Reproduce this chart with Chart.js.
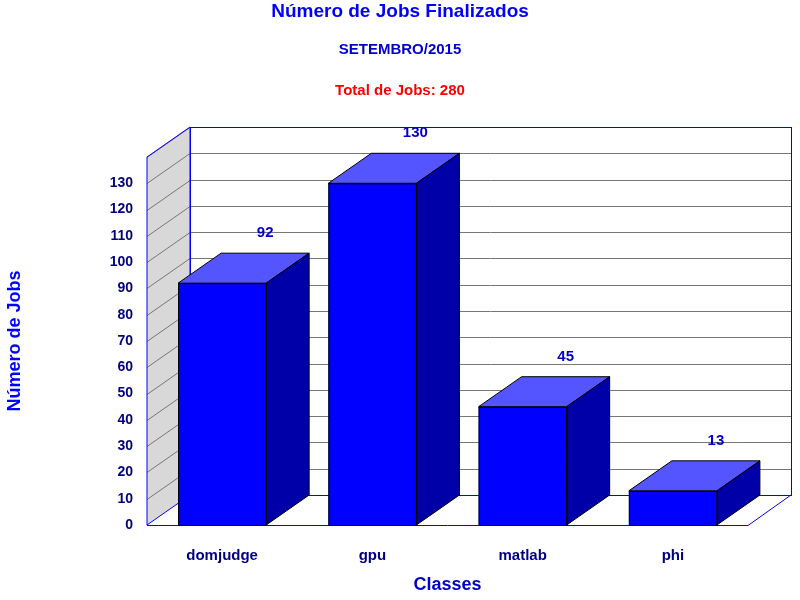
<!DOCTYPE html>
<html><head><meta charset="utf-8">
<script src="https://cdn.jsdelivr.net/npm/chart.js@4"></script>
<style>body{margin:0;background:#fff}</style></head>
<body><canvas id="c" width="800" height="600" style="width:800px;height:600px"></canvas>
<script>
const categories = ["domjudge","gpu","matlab","phi"];
const jobs = [92,130,45,13];
const yTicks = [0,10,20,30,40,50,60,70,80,90,100,110,120,130];
const DX = 43, DY = -30;
const F = "Arial, 'Liberation Sans', sans-serif";

const threeD = {
  id:'threeD',
  beforeDatasetsDraw(chart){
    const {ctx, chartArea:a, scales:{y}} = chart;
    ctx.save();
    // left wall
    ctx.fillStyle='#d8d8d8';
    ctx.beginPath();ctx.moveTo(a.left,a.bottom);ctx.lineTo(a.left+DX,a.bottom+DY);
    ctx.lineTo(a.left+DX,a.top+DY);ctx.lineTo(a.left,a.top);ctx.closePath();ctx.fill();
    // back wall
    ctx.fillStyle='#fff';ctx.fillRect(a.left+DX,a.top+DY,a.right-a.left,a.bottom-a.top);
    // grid
    ctx.strokeStyle='#777';ctx.lineWidth=1;
    for(let v=10; v<=140; v+=10){
      const py=Math.round(y.getPixelForValue(v))+0.5;
      ctx.beginPath();ctx.moveTo(a.left,py);ctx.lineTo(a.left+DX,py+DY);ctx.lineTo(a.right+DX,py+DY);ctx.stroke();
    }
    ctx.strokeStyle='#0000ff';
    ctx.beginPath();ctx.moveTo(a.left,a.bottom);ctx.lineTo(a.left+DX,a.bottom+DY);
    ctx.lineTo(a.left+DX,a.top+DY);ctx.lineTo(a.left,a.top);ctx.closePath();ctx.stroke();
    ctx.strokeRect(a.left+DX+0.5,a.top+DY+0.5,a.right-a.left,a.bottom-a.top);
    ctx.beginPath();ctx.moveTo(a.left,a.bottom+0.5);ctx.lineTo(a.right,a.bottom+0.5);ctx.lineTo(a.right+DX,a.bottom+DY);ctx.stroke();
    ctx.restore();
  },
  afterDatasetsDraw(chart){
    const {ctx} = chart;
    const meta = chart.getDatasetMeta(0);
    ctx.save();
    ctx.strokeStyle='#000';ctx.lineWidth=1;
    meta.data.forEach((b,i)=>{
      const l=b.x-b.width/2, r=b.x+b.width/2, t=b.y, bt=b.base;
      ctx.fillStyle='#5555ff';
      ctx.beginPath();ctx.moveTo(l,t);ctx.lineTo(l+DX,t+DY);ctx.lineTo(r+DX,t+DY);ctx.lineTo(r,t);ctx.closePath();ctx.fill();ctx.stroke();
      ctx.fillStyle='#0000a8';
      ctx.beginPath();ctx.moveTo(r,t);ctx.lineTo(r+DX,t+DY);ctx.lineTo(r+DX,bt+DY);ctx.lineTo(r,bt);ctx.closePath();ctx.fill();ctx.stroke();
      ctx.strokeRect(l+0.5,t+0.5,b.width,bt-t);
      ctx.fillStyle='#0000cc';ctx.font='bold 15px '+F;ctx.textAlign='center';ctx.textBaseline='middle';
      ctx.fillText(String(jobs[i]), b.x+DX, t+DY-20);
    });
    // titles
    ctx.textAlign='center';ctx.textBaseline='middle';
    ctx.fillStyle='#0000ff';ctx.font='bold 19px '+F;ctx.fillText('Número de Jobs Finalizados',400,12);
    ctx.fillStyle='#0000cc';ctx.font='bold 15px '+F;ctx.fillText('SETEMBRO/2015',400,50);
    ctx.fillStyle='#ff0000';ctx.fillText('Total de Jobs: 280',400,91);
    ctx.restore();
  }
};

new Chart(document.getElementById('c'),{
  type:'bar',
  data:{labels:categories,datasets:[{data:jobs,backgroundColor:'#0000ff',borderWidth:0,barPercentage:0.586,categoryPercentage:1}]},
  options:{
    responsive:false,animation:false,
    layout:{padding:{top:157,right:52,left:0,bottom:0}},
    plugins:{legend:{display:false},tooltip:{enabled:false}},
    scales:{
      x:{grid:{display:false},border:{display:false},
        ticks:{color:'#000080',font:{family:F,size:15,weight:'bold'},padding:14},
        title:{display:true,text:'Classes',color:'#0000cc',font:{family:F,size:18,weight:'bold'},padding:{top:10}},
        afterFit(s){s.height=75;}},
      y:{min:0,max:140,grid:{display:false},border:{display:false},
        afterBuildTicks(s){s.ticks=yTicks.map(v=>({value:v}));},
        ticks:{color:'#000080',font:{family:F,size:14,weight:'bold'},padding:6},
        title:{display:true,text:'Número de Jobs',color:'#0000ff',font:{family:F,size:18,weight:'bold'},padding:{bottom:30}},
        afterFit(s){s.width=147;}}
    }
  },
  plugins:[threeD]
});
</script></body></html>
